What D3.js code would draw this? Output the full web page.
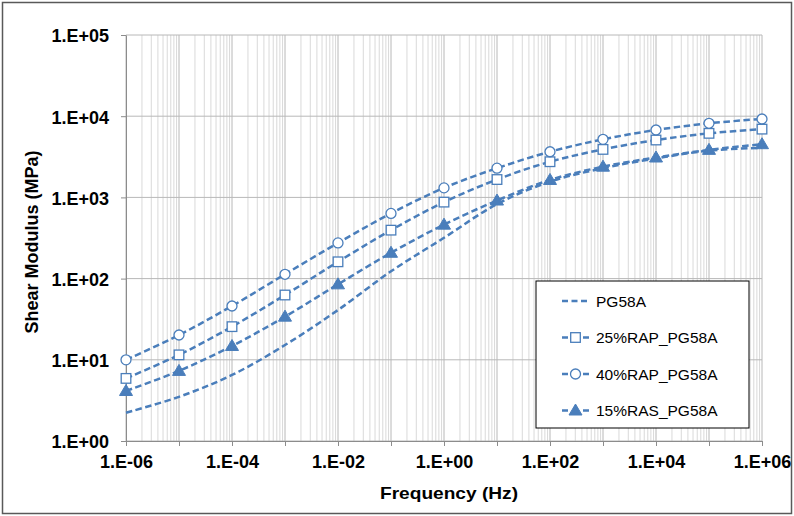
<!DOCTYPE html>
<html>
<head>
<meta charset="utf-8">
<script src="https://cdn.jsdelivr.net/npm/d3@7"></script>
<style>
  body { margin: 0; background: #fff; }
  svg { font-family: "Liberation Sans", Arial, sans-serif; }
</style>
</head>
<body>
<svg width="794" height="516"></svg>
<script>
// Data (frequency in Hz, modulus in MPa)
const freq = [1e-6, 1e-5, 1e-4, 1e-3, 1e-2, 1e-1, 1e0, 1e1, 1e2, 1e3, 1e4, 1e5, 1e6];
const pg58a   = [2.23, 3.5, 6.5, 15.2, 41, 123, 318, 828, 1560, 2290, 3020, 3760, 4090];
const rap25   = [5.9, 11.5, 25.6, 62.8, 161, 395, 875, 1660, 2750, 3900, 5090, 6150, 6930];
const rap40   = [10, 20.2, 46, 113, 275, 635, 1310, 2290, 3650, 5190, 6760, 8180, 9240];
const ras15   = [4.13, 7.3, 14.8, 34, 85, 208, 462, 915, 1640, 2390, 3100, 3850, 4520];
const seriesNames = ["PG58A", "25%RAP_PG58A", "40%RAP_PG58A", "15%RAS_PG58A"];
const markers = ["none", "square", "circle", "triangle"];
const xTicks = [1e-6, 1e-4, 1e-2, 1e0, 1e2, 1e4, 1e6];
const yTicks = [1e0, 1e1, 1e2, 1e3, 1e4, 1e5];

const series = [pg58a, rap25, rap40, ras15].map((vals, i) => ({
    name: seriesNames[i],
    marker: markers[i],
    points: vals.map((v, j) => ({ x: freq[j], y: v }))
}));

const svg = d3.select("svg"),
    width = +svg.attr("width"),
    height = +svg.attr("height");

const blue = "#4a7ebb";
const margin = { left: 126, right: 32, top: 35, bottom: 75 };

const x = d3.scaleLog().domain([1e-6, 1e6]).range([margin.left, width - margin.right]);
const y = d3.scaleLog().domain([1, 1e5]).range([height - margin.bottom, margin.top]);

// outer frame
svg.append("rect")
    .attr("x", 2.5).attr("y", 2.5)
    .attr("width", width - 5).attr("height", height - 5)
    .attr("fill", "#fff")
    .attr("stroke", "#595959")
    .attr("stroke-width", 1.5);

// minor vertical gridlines
const minorX = [];
for (let e = -6; e < 6; e++) {
    for (let k = 2; k <= 9; k++) minorX.push(k * Math.pow(10, e));
}
svg.append("g")
    .selectAll("line")
    .data(minorX)
    .enter().append("line")
    .attr("x1", d => x(d)).attr("x2", d => x(d))
    .attr("y1", y(1e5)).attr("y2", y(1))
    .attr("stroke", "#d9d9d9")
    .attr("stroke-width", 1);

// major gridlines
const majorX = d3.range(-6, 7).map(e => Math.pow(10, e));
svg.append("g")
    .selectAll("line")
    .data(majorX)
    .enter().append("line")
    .attr("x1", d => x(d)).attr("x2", d => x(d))
    .attr("y1", y(1e5)).attr("y2", y(1))
    .attr("stroke", "#b8b8b8")
    .attr("stroke-width", 1);

svg.append("g")
    .selectAll("line")
    .data(yTicks)
    .enter().append("line")
    .attr("x1", x(1e-6)).attr("x2", x(1e6))
    .attr("y1", d => y(d)).attr("y2", d => y(d))
    .attr("stroke", "#b8b8b8")
    .attr("stroke-width", 1);

// axes
const fmt = d => {
    const e = Math.round(Math.log10(d));
    return "1.E" + (e < 0 ? "-" : "+") + String(Math.abs(e)).padStart(2, "0");
};

const xAxis = svg.append("g")
    .attr("transform", `translate(0,${y(1)})`)
    .call(d3.axisBottom(x).tickValues(majorX).tickFormat(d => xTicks.includes(d) ? fmt(d) : "").tickSize(5).tickSizeOuter(0));
const yAxis = svg.append("g")
    .attr("transform", `translate(${x(1e-6)},0)`)
    .call(d3.axisLeft(y).tickValues(yTicks).tickFormat(fmt).tickSize(5).tickSizeOuter(0));

[xAxis, yAxis].forEach(a => {
    a.select(".domain").attr("stroke", "#8c8c8c");
    a.selectAll(".tick line").attr("stroke", "#8c8c8c");
    a.selectAll(".tick text")
        .attr("fill", "#000")
        .style("font-size", "18px")
        .style("font-weight", "bold")
        .style("font-family", "'Liberation Sans', Arial, sans-serif");
});
xAxis.selectAll(".tick text").attr("y", 27).attr("dy", 0);
yAxis.selectAll(".tick text").attr("x", -17).attr("dy", "0.38em");

// axis titles
svg.append("text")
    .attr("x", (x(1e-6) + x(1e6)) / 2 + 5)
    .attr("y", 499)
    .attr("text-anchor", "middle")
    .style("font-size", "17px")
    .style("font-weight", "bold")
    .attr("textLength", 138)
    .attr("lengthAdjust", "spacingAndGlyphs")
    .text("Frequency (Hz)");

svg.append("text")
    .attr("transform", `translate(38,242) rotate(-90)`)
    .attr("text-anchor", "middle")
    .style("font-size", "18px")
    .style("font-weight", "bold")
    .text("Shear Modulus (MPa)");

// lines
const line = d3.line()
    .x(d => x(d.x))
    .y(d => y(d.y))
    .curve(d3.curveCatmullRom.alpha(0.5));

svg.append("g")
    .selectAll("path")
    .data(series)
    .enter().append("path")
    .attr("d", d => line(d.points))
    .attr("fill", "none")
    .attr("stroke", blue)
    .attr("stroke-width", 2.5)
    .attr("stroke-dasharray", "6.5,3.5");

// markers
function drawMarker(g, type, cx, cy) {
    if (type === "circle") {
        g.append("circle")
            .attr("cx", cx).attr("cy", cy).attr("r", 5)
            .attr("fill", "#fff").attr("stroke", blue).attr("stroke-width", 1.3);
    } else if (type === "square") {
        g.append("rect")
            .attr("x", cx - 4.8).attr("y", cy - 4.8)
            .attr("width", 9.6).attr("height", 9.6)
            .attr("fill", "#fff").attr("stroke", blue).attr("stroke-width", 1.3);
    } else if (type === "triangle") {
        g.append("path")
            .attr("d", `M${cx},${cy - 6.5}L${cx + 6.5},${cy + 4.5}L${cx - 6.5},${cy + 4.5}Z`)
            .attr("fill", blue).attr("stroke", blue).attr("stroke-width", 1);
    }
}

const markerG = svg.append("g");
series.forEach(s => {
    if (s.marker === "none") return;
    s.points.forEach(p => drawMarker(markerG, s.marker, x(p.x), y(p.y)));
});

// legend
const legend = svg.append("g").attr("transform", "translate(536,281)");
legend.append("rect")
    .attr("x", 0).attr("y", 0)
    .attr("width", 213).attr("height", 147)
    .attr("fill", "#fff")
    .attr("stroke", "#000")
    .attr("stroke-width", 1);

series.forEach((s, i) => {
    const ly = 20 + i * 36.5;
    legend.append("line")
        .attr("x1", 26).attr("x2", 53)
        .attr("y1", ly).attr("y2", ly)
        .attr("stroke", blue)
        .attr("stroke-width", 2.5)
        .attr("stroke-dasharray", s.marker === "none" ? "6,3.5" : "6,15,6");
    drawMarker(legend, s.marker, 39.5, ly);
    legend.append("text")
        .attr("x", 60)
        .attr("y", ly)
        .attr("dy", "0.36em")
        .style("font-size", "15.5px")
        .text(s.name);
});
</script>
</body>
</html>
